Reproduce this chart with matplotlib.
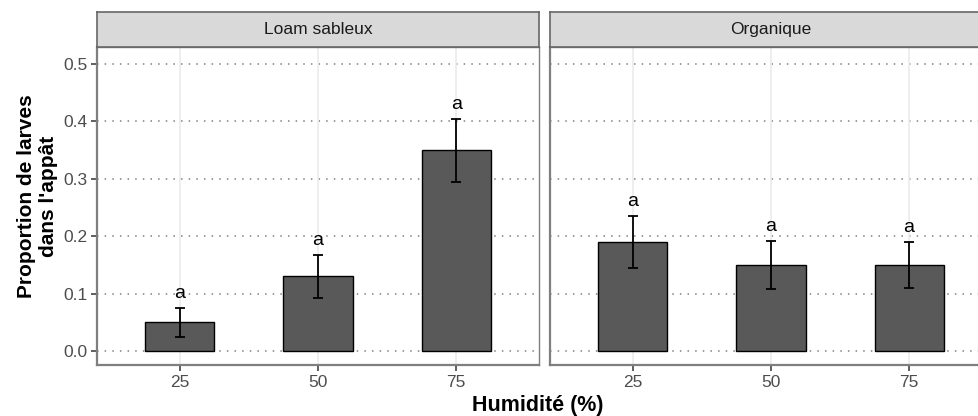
import matplotlib
matplotlib.use("Agg")
import matplotlib.pyplot as plt
import numpy as np

plt.rcParams['font.family'] = ['Liberation Sans', 'DejaVu Sans']

# Data
panels = ["Loam sableux", "Organique"]
humidity = ["25", "50", "75"]
means = {
    "Loam sableux": [0.05, 0.13, 0.35],
    "Organique": [0.19, 0.15, 0.15],
}
errors = {
    "Loam sableux": [0.025, 0.038, 0.055],
    "Organique": [0.046, 0.042, 0.040],
}
letters = {
    "Loam sableux": ["a", "a", "a"],
    "Organique": ["a", "a", "a"],
}
yticks = [0.0, 0.1, 0.2, 0.3, 0.4, 0.5]

W, H = 979, 416
fig = plt.figure(figsize=(W / 100, H / 100), dpi=100)

panel_left = [97, 550]
panel_w = 442
top, bottom = 47, 365
strip_top = 12

border_col = "#7F7F7F"
tick_col = "#333333"
label_col = "#4D4D4D"

x = np.arange(len(humidity))
for i, name in enumerate(panels):
    x0 = panel_left[i]
    ax = fig.add_axes([x0 / W, (H - bottom) / H, panel_w / W, (bottom - top) / H])
    ax.set_xlim(-0.6, 2.6)
    ax.set_ylim(-0.0244, 0.5296)

    # grid
    for yv in yticks:
        ax.axhline(yv, color="#808080", lw=1.1, ls=(0, (1, 4)), zorder=0)
    for xv in x:
        ax.axvline(xv, color="#EBEBEB", lw=1.2, zorder=0)

    m = means[name]
    e = errors[name]
    ax.bar(x, m, width=0.5, color="#595959", edgecolor="black", linewidth=1.0, zorder=2)
    ax.errorbar(x, m, yerr=e, fmt="none", ecolor="black", elinewidth=1.3,
                capsize=3.5, capthick=1.3, zorder=3)
    for xi, mi, ei, lab in zip(x, m, e, letters[name]):
        ax.annotate(lab, (xi, mi + ei), xytext=(0, 7), textcoords="offset points",
                    ha="center", va="baseline", fontsize=14, color="black")

    ax.set_xticks(x)
    ax.set_xticklabels(humidity)
    ax.set_yticks(yticks)
    if i == 0:
        ax.set_yticklabels([f"{v:.1f}" for v in yticks])
    else:
        ax.tick_params(axis="y", left=False, labelleft=False)
    ax.tick_params(axis="both", colors=tick_col, labelcolor=label_col,
                   labelsize=12.5, length=4, width=1.1, direction="out", pad=3)
    for side, sp in ax.spines.items():
        sp.set_color(border_col)
        sp.set_linewidth(1.0)
    ax.spines["left"].set_linewidth(1.6)
    ax.spines["bottom"].set_linewidth(1.6)

    # facet strip
    sax = fig.add_axes([x0 / W, (H - top) / H, panel_w / W, (top - strip_top) / H])
    sax.set_facecolor("#D9D9D9")
    sax.set_xticks([])
    sax.set_yticks([])
    for sp in sax.spines.values():
        sp.set_color("#666666")
        sp.set_linewidth(1.2)
    sax.text(0.5, 0.5, name, transform=sax.transAxes, ha="center", va="center",
             fontsize=12.5, color="#1A1A1A")

fig.text(538 / W, 1 - 406 / H, "Humidité (%)", ha="center", va="center",
         fontsize=15.5, fontweight="bold")
fig.text(38 / W, 1 - 196 / H, "Proportion de larves\ndans l'appât", ha="center",
         va="center", rotation=90, fontsize=15, fontweight="bold", linespacing=1.2)

fig.savefig("out.png", dpi=100)
